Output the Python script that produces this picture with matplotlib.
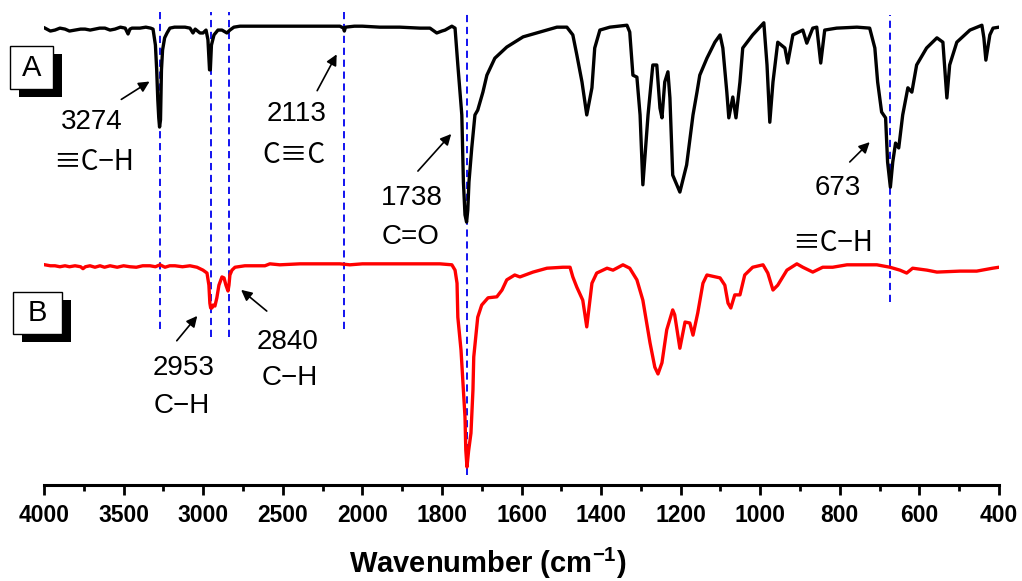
import numpy as np
import matplotlib
matplotlib.use('Agg')
import matplotlib.pyplot as plt
from matplotlib.patches import Rectangle
from matplotlib.ticker import FixedLocator

plt.rcParams['font.family'] = ['Liberation Sans', 'DejaVu Sans']
plt.rcParams['mathtext.fontset'] = 'custom'
plt.rcParams['mathtext.rm'] = 'Liberation Sans'
plt.rcParams['mathtext.bf'] = 'Liberation Sans:bold'

# FTIR spectra, transmittance (a.u.), spectrum A offset above spectrum B
wn_a = [3994, 3960, 3931, 3900, 3868, 3840, 3805, 3770, 3742, 3710, 3680, 3650, 3617, 3585,
        3554, 3520, 3490, 3472, 3460, 3447, 3397, 3360, 3330, 3315, 3300, 3292, 3285, 3279,
        3274, 3268, 3262, 3255, 3242, 3227, 3209, 3180, 3158, 3114, 3083, 3064, 3050, 3020,
        3001, 2982, 2970, 2960, 2955, 2948, 2932, 2907, 2882, 2851, 2832, 2807, 2769, 2400,
        2141, 2118, 2113, 2106, 2050, 2000, 1956, 1906, 1855, 1830, 1813, 1800, 1792, 1775,
        1767, 1760, 1750, 1746, 1742, 1738, 1735, 1732, 1725, 1717, 1710, 1697, 1687, 1667,
        1637, 1596, 1554, 1511, 1486, 1471, 1461, 1448, 1436, 1423, 1416, 1403, 1378, 1335,
        1328, 1320, 1310, 1302, 1295, 1282, 1270, 1260, 1252, 1247, 1240, 1232, 1227, 1220,
        1202, 1185, 1177, 1169, 1159, 1152, 1134, 1114, 1101, 1094, 1084, 1079, 1069, 1061,
        1051, 1044, 1019, 991, 983, 976, 968, 956, 938, 931, 918, 893, 883, 868,
        858, 848, 838, 808, 757, 725, 712, 705, 695, 685, 680, 673, 667, 660,
        652, 642, 629, 619, 607, 582, 556, 541, 531, 524, 506, 473, 443, 438,
        433, 423, 415, 400]
t_a = [94.2, 93.6, 93.8, 94.2, 94.0, 93.6, 93.8, 94.0, 94.0, 93.8, 94.0, 94.2, 94.2, 93.8,
       94.0, 94.4, 94.2, 93.0, 94.0, 94.2, 94.2, 94.4, 94.2, 94.0, 90.7, 85.6, 79.4, 75.7,
       73.8, 75.3, 85.6, 89.7, 92.2, 93.2, 94.2, 94.4, 94.4, 94.4, 94.2, 93.2, 94.0, 93.2,
       93.2, 93.8, 91.8, 85.6, 85.6, 90.7, 92.8, 93.8, 93.8, 93.2, 93.8, 94.4, 94.6, 94.6,
       94.6, 94.2, 93.6, 94.4, 94.6, 94.6, 94.4, 94.4, 94.2, 94.2, 93.2, 93.6, 93.8, 94.6,
       94.2, 86.6, 76.3, 62.5, 55.7, 54.2, 56.7, 62.5, 69.5, 76.3, 77.3, 81.0, 84.5, 88.0,
       90.3, 92.4, 93.4, 94.4, 94.4, 92.8, 88.7, 83.1, 76.3, 81.9, 90.1, 93.8, 94.4, 94.8,
       93.4, 84.5, 84.1, 76.3, 61.9, 76.3, 86.6, 86.6, 77.7, 75.7, 83.1, 85.2, 79.8, 63.9,
       60.4, 66.0, 71.1, 76.3, 81.0, 84.5, 88.0, 91.3, 92.8, 90.1, 81.0, 75.7, 80.0, 75.7,
       83.1, 90.1, 92.8, 95.3, 86.6, 74.8, 83.1, 91.3, 90.1, 87.0, 92.8, 93.8, 91.1, 94.2,
       94.4, 87.0, 93.8, 94.2, 94.4, 94.2, 90.1, 83.1, 76.9, 75.7, 66.6, 61.4, 66.6, 70.5,
       69.5, 76.3, 81.9, 81.0, 86.6, 90.1, 92.2, 91.3, 79.8, 86.6, 91.3, 93.8, 94.8, 92.2,
       87.6, 92.8, 94.2, 94.4]

wn_b = [3994, 3960, 3931, 3900, 3868, 3840, 3805, 3770, 3755, 3740, 3711, 3680, 3648, 3620,
        3585, 3540, 3500, 3460, 3420, 3380, 3334, 3300, 3271, 3240, 3210, 3177, 3130, 3083,
        3039, 3001, 2976, 2964, 2958, 2953, 2945, 2938, 2926, 2914, 2901, 2882, 2869, 2857,
        2844, 2838, 2832, 2819, 2800, 2738, 2612, 2581, 2518, 2392, 2141, 2078, 2000, 1805,
        1775, 1767, 1762, 1760, 1752, 1747, 1742, 1740, 1737, 1733, 1727, 1722, 1720, 1715,
        1710, 1700, 1684, 1662, 1649, 1637, 1617, 1604, 1571, 1536, 1496, 1478, 1471, 1461,
        1446, 1436, 1431, 1423, 1411, 1385, 1370, 1345, 1328, 1310, 1295, 1277, 1265, 1257,
        1247, 1235, 1220, 1215, 1202, 1189, 1177, 1169, 1157, 1144, 1134, 1101, 1089, 1081,
        1074, 1064, 1051, 1039, 1019, 993, 981, 968, 956, 933, 908, 893, 868, 843,
        818, 782, 750, 707, 674, 649, 632, 617, 581, 556, 498, 456, 416, 400]
t_b = [45.4, 45.2, 45.2, 45.0, 45.2, 45.0, 45.2, 45.0, 44.6, 45.0, 45.2, 44.9, 45.2, 44.9,
       45.2, 44.9, 45.2, 45.0, 44.9, 45.2, 45.2, 45.0, 45.4, 44.9, 45.2, 45.2, 45.0, 45.2,
       44.9, 44.3, 43.7, 41.2, 37.5, 36.5, 36.5, 37.1, 36.9, 38.6, 41.2, 42.9, 42.7, 41.2,
       40.0, 41.2, 43.3, 44.3, 44.9, 45.2, 45.2, 45.6, 45.4, 45.6, 45.6, 45.4, 45.6, 45.6,
       45.4, 44.3, 41.6, 34.6, 27.8, 21.0, 14.0, 7.2, 3.7, 7.0, 10.7, 19.6, 26.4, 30.5,
       34.6, 37.1, 38.6, 38.8, 40.2, 42.3, 43.3, 42.9, 43.9, 44.7, 44.9, 44.9, 42.9, 40.8,
       38.1, 32.6, 36.1, 41.6, 43.7, 44.7, 44.3, 45.4, 44.7, 42.3, 38.1, 29.3, 24.3, 22.9,
       25.2, 32.0, 36.1, 35.1, 28.2, 33.6, 33.4, 30.9, 35.5, 41.6, 43.3, 42.7, 41.2, 37.5,
       36.5, 39.2, 39.2, 43.3, 44.9, 45.4, 43.7, 40.2, 41.2, 44.3, 45.6, 44.9, 43.9, 44.9,
       44.9, 45.4, 45.4, 45.4, 44.9, 44.3, 43.7, 44.7, 44.3, 43.9, 44.1, 44.1, 44.7, 44.9]

# marked bands: position, dashed line bottom/top
peak_wn = [3274, 2953, 2840, 2113, 1738, 673]
peak_lo = [32.2, 30.5, 30.5, 32.2, 2.0, 37.7]
peak_hi = [97.5, 97.5, 97.5, 97.5, 97.5, 96.9]

# band labels: number, group, text positions and arrow tail/head
band_num = ['3274', '2113', '1738', '673', '2953', '2840']
band_grp = ['\u2261C\u2212H', 'C\u2261C', 'C=O', '\u2261C\u2212H', 'C\u2212H', 'C\u2212H']
num_xy = [(3699, 74.8), (2411, 76.5), (1875, 59.2), (805, 61.2), (3121, 24.1), (2467, 29.5)]
grp_xy = [(3686, 66.6), (2430, 68.0), (1880, 51.1), (818, 49.9), (3133, 16.3), (2455, 22.1)]
arrow_tail = [(3529, 79.2), (2292, 80.8), (1865, 64.3), (780, 66.2), (3177, 29.3), (2587, 35.5)]
arrow_head = [(3322, 83.5), (2153, 89.3), (1772, 72.8), (720, 71.1), (3026, 35.3), (2775, 40.6)]

major_ticks = [4000, 3500, 3000, 2500, 2000, 1800, 1600, 1400, 1200, 1000, 800, 600, 400]
minor_ticks = [3750, 3250, 2750, 2250, 1900, 1700, 1500, 1300, 1100, 900, 700, 500]


# split axis: 500 cm-1 per division above 2000, 200 cm-1 per division below
def fwd(w):
    w = np.asarray(w, dtype=float)
    return np.where(w <= 2000, w / 200.0, 10.0 + (w - 2000) / 500.0)


def inv(p):
    p = np.asarray(p, dtype=float)
    return np.where(p <= 10, p * 200.0, 2000 + (p - 10) * 500.0)


fig = plt.figure(figsize=(10.22, 5.81), dpi=100)
ax = fig.add_axes([44 / 1022, 96 / 581, 955 / 1022, 485 / 581])
ax.set_xscale('function', functions=(fwd, inv))
ax.set_xlim(4000, 400)
ax.set_ylim(0, 100)

ax.vlines(peak_wn, peak_lo, peak_hi, colors='#0000ee', linestyles=(0, (4, 2.6)), lw=1.3)
ax.plot(wn_a, t_a, color='black', lw=2.4, solid_joinstyle='round')
ax.plot(wn_b, t_b, color='#ff0000', lw=2.4, solid_joinstyle='round')

# full-width triple bond glyph from the CJK font, the rest in Arial-like sans
bond_font = ['Noto Sans CJK SC', 'Liberation Sans']
for num, grp, nxy, gxy, tail, head in zip(band_num, band_grp, num_xy, grp_xy, arrow_tail, arrow_head):
    ax.text(nxy[0], nxy[1], num, fontsize=20, ha='center', va='center')
    fam = bond_font if '\u2261' in grp else ['Liberation Sans', 'DejaVu Sans']
    ax.text(gxy[0], gxy[1], grp, fontsize=20, ha='center', va='center', family=fam)
    ax.annotate('', xy=head, xytext=tail,
                arrowprops=dict(arrowstyle='-|>', color='black', lw=1.2, mutation_scale=16))

for s in ['left', 'right', 'top']:
    ax.spines[s].set_visible(False)
ax.spines['bottom'].set_linewidth(2.2)
ax.set_yticks([])
ax.xaxis.set_major_locator(FixedLocator(major_ticks))
ax.xaxis.set_minor_locator(FixedLocator(minor_ticks))
ax.set_xticklabels([str(t) for t in major_ticks])
ax.tick_params(axis='x', which='major', direction='out', length=7, width=2, pad=7,
               labelsize=16.5)
ax.tick_params(axis='x', which='minor', direction='out', length=4, width=2)
for lab in ax.get_xticklabels():
    lab.set_fontweight('bold')
ax.set_xlabel('Wavenumber (cm$^{\\mathbf{-1}}$)', fontsize=21, fontweight='bold')
ax.xaxis.set_label_coords((488 - 44) / 955, -0.125)

# framed panel labels with drop shadow, placed in figure pixels
W, H = 1022.0, 581.0
for label, (x0, y0, x1, y1) in [('A', (10, 46, 53, 89)), ('B', (13, 292, 62, 334))]:
    w, h = (x1 - x0) / W, (y1 - y0) / H
    fig.patches.append(Rectangle(((x0 + 9) / W, 1 - (y1 + 8) / H), w, h,
                                 transform=fig.transFigure, facecolor='black', lw=0))
    fig.patches.append(Rectangle((x0 / W, 1 - y1 / H), w, h, transform=fig.transFigure,
                                 facecolor='white', edgecolor='black', lw=1.0))
    fig.text((x0 + x1) / 2 / W, 1 - (y0 + y1) / 2 / H, label, fontsize=21,
             ha='center', va='center')

fig.savefig('out.png', dpi=100)
